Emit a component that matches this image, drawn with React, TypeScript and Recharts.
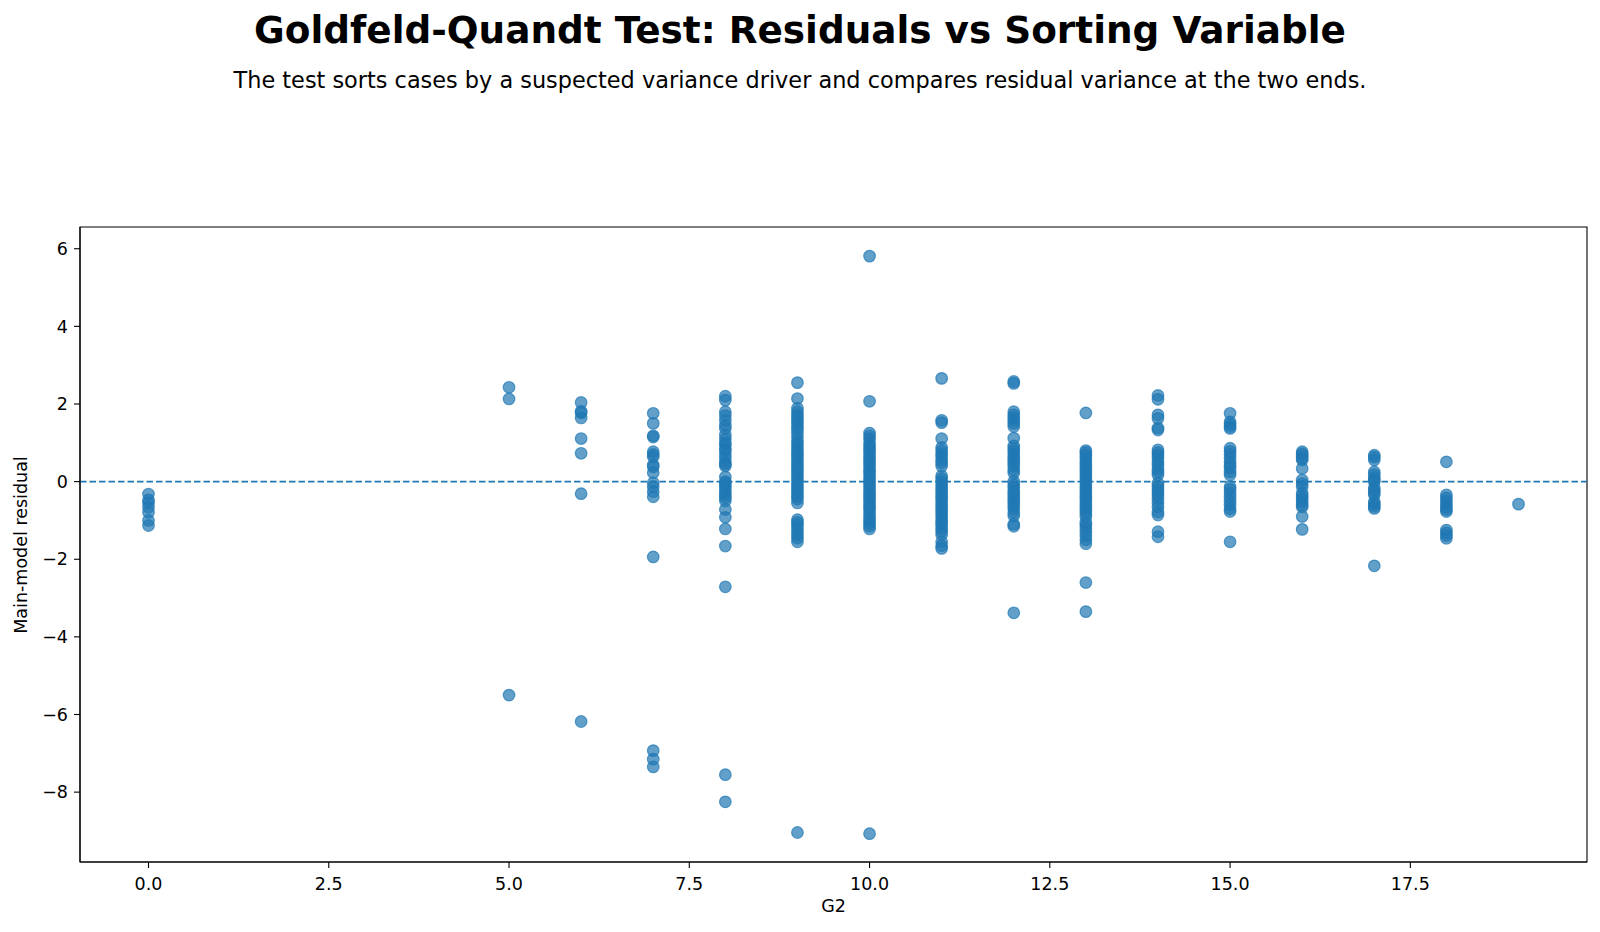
import React from 'react';
import { ScatterChart, Scatter, XAxis, YAxis, ReferenceLine, ReferenceArea } from 'recharts';

// residuals, one list per G2 value
const res0 = [-0.32, -0.47, -0.55, -0.66, -0.79, -1.0, -1.13];
const res5 = [2.43, 2.13, -5.5];
const res6 = [2.04, 1.81, 1.77, 1.64, 1.11, 0.73, -0.31, -6.18];
const res7 = [1.76, 1.5, 1.18, 1.15, 0.77, 0.7, 0.64, 0.43, 0.38, 0.23, -0.03, -0.13, -0.26, -0.39, -1.94, -6.93, -7.15, -7.35];
const res8 = [2.2, 2.1, 1.8, 1.7, 1.58, 1.45, 1.37, 1.2, 1.1, 1.0, 0.95, 0.85, 0.8, 0.7, 0.6, 0.5, 0.45, 0.4, 0.12, 0.0, -0.05, -0.12, -0.2, -0.28, -0.35, -0.42, -0.5, -0.72, -0.92, -1.22, -1.66, -2.71, -7.55, -8.25];
const res9 = [2.55, 2.14, 1.89, 1.8, 1.72, 1.65, 1.58, 1.5, 1.42, 1.35, 1.25, 1.15, 1.05, 0.98, 0.9, 0.82, 0.75, 0.68, 0.6, 0.52, 0.45, 0.38, 0.3, 0.22, 0.15, 0.08, 0.0, -0.08, -0.15, -0.22, -0.3, -0.38, -0.45, -0.55, -0.98, -1.05, -1.12, -1.2, -1.3, -1.38, -1.46, -1.55, -9.04];
const res10 = [5.81, 2.07, 1.25, 1.18, 1.1, 1.0, 0.92, 0.85, 0.78, 0.7, 0.62, 0.55, 0.48, 0.4, 0.32, 0.25, 0.18, 0.1, 0.03, -0.05, -0.12, -0.2, -0.28, -0.35, -0.42, -0.5, -0.58, -0.65, -0.72, -0.8, -0.88, -0.95, -1.02, -1.08, -1.15, -1.22, -9.07];
const res11 = [2.66, 1.58, 1.52, 1.11, 0.88, 0.8, 0.72, 0.65, 0.55, 0.48, 0.4, 0.15, 0.08, 0.0, -0.08, -0.15, -0.22, -0.3, -0.38, -0.45, -0.52, -0.6, -0.68, -0.75, -0.82, -0.9, -0.98, -1.05, -1.12, -1.2, -1.28, -1.36, -1.55, -1.65, -1.72];
const res12 = [2.58, 2.53, 1.8, 1.72, 1.65, 1.58, 1.5, 1.42, 1.12, 0.92, 0.85, 0.78, 0.7, 0.62, 0.55, 0.48, 0.4, 0.3, 0.22, 0.0, -0.08, -0.15, -0.25, -0.32, -0.4, -0.48, -0.55, -0.62, -0.7, -0.8, -0.88, -1.1, -1.15, -3.38];
const res13 = [1.77, 0.8, 0.75, 0.68, 0.6, 0.52, 0.45, 0.38, 0.3, 0.22, 0.15, 0.08, 0.0, -0.08, -0.15, -0.22, -0.3, -0.38, -0.45, -0.52, -0.6, -0.68, -0.75, -0.82, -0.9, -1.05, -1.12, -1.2, -1.3, -1.4, -1.5, -1.6, -2.6, -3.35];
const res14 = [2.22, 2.12, 1.72, 1.63, 1.38, 1.33, 0.82, 0.75, 0.68, 0.6, 0.5, 0.42, 0.32, 0.25, 0.17, -0.04, -0.12, -0.2, -0.28, -0.35, -0.45, -0.55, -0.65, -0.78, -0.86, -1.29, -1.42];
const res15 = [1.76, 1.54, 1.48, 1.42, 1.37, 0.86, 0.78, 0.7, 0.6, 0.5, 0.42, 0.35, 0.25, 0.17, -0.13, -0.2, -0.3, -0.4, -0.5, -0.6, -0.7, -0.77, -1.55];
const res16 = [0.77, 0.72, 0.66, 0.6, 0.56, 0.34, 0.04, -0.05, -0.13, -0.3, -0.38, -0.45, -0.52, -0.6, -0.65, -0.9, -1.23];
const res17 = [0.68, 0.63, 0.56, 0.25, 0.18, 0.1, 0.04, 0.0, -0.16, -0.22, -0.28, -0.34, -0.52, -0.58, -0.64, -0.69, -2.17];
const res18 = [0.51, -0.34, -0.42, -0.5, -0.58, -0.65, -0.72, -0.77, -1.25, -1.32, -1.39, -1.46];
const res19 = [-0.58];

const g2Values = [0, 5, 6, 7, 8, 9, 10, 11, 12, 13, 14, 15, 16, 17, 18, 19];
const residualLists = [res0, res5, res6, res7, res8, res9, res10, res11, res12, res13, res14, res15, res16, res17, res18, res19];

const xTicks = [0, 2.5, 5, 7.5, 10, 12.5, 15, 17.5];
const yTicks = [-8, -6, -4, -2, 0, 2, 4, 6];

const points = g2Values.flatMap((g, i) => residualLists[i].map((r) => ({ x: g, y: r })));

const FONT = 'DejaVu Sans, sans-serif';
const BLUE = '#1f77b4';

const Dot = (props: any) => {
  const { cx, cy } = props;
  if (cx == null || cy == null) return null;
  return (
    <circle
      cx={cx}
      cy={cy}
      r={5.8}
      fill={BLUE}
      fillOpacity={0.7}
      stroke={BLUE}
      strokeOpacity={0.7}
      strokeWidth={1.2}
    />
  );
};

const App: React.FC = () => {
  const tickStyle = { fill: '#000', fontSize: 17.5, fontFamily: FONT };
  return (
    <div style={{ position: 'absolute', left: 0, top: 0, width: 1600, height: 932, background: '#fff', fontFamily: FONT }}>
      {/* Title */}
      <div style={{ position: 'absolute', top: 11.5, left: 0, width: 1600, textAlign: 'center', fontSize: 37.4, fontWeight: 'bold', lineHeight: 1 }}>
        Goldfeld-Quandt Test: Residuals vs Sorting Variable
      </div>
      <div style={{ position: 'absolute', top: 69, left: 0, width: 1600, textAlign: 'center', fontSize: 22.4, lineHeight: 1 }}>
        The test sorts cases by a suspected variance driver and compares residual variance at the two ends.
      </div>

      <ScatterChart width={1600} height={932} margin={{ top: 227, right: 13, bottom: 0, left: 0 }}>
        <XAxis
          type="number"
          dataKey="x"
          domain={[-0.95, 19.95]}
          allowDataOverflow
          ticks={xTicks}
          tickFormatter={(v: number) => v.toFixed(1)}
          height={70}
          tick={tickStyle}
          tickSize={6}
          tickMargin={10}
          axisLine={{ stroke: '#000', strokeWidth: 1.1 }}
          tickLine={{ stroke: '#000', strokeWidth: 1.1 }}
        />
        <YAxis
          type="number"
          dataKey="y"
          domain={[-9.8, 6.56]}
          allowDataOverflow
          ticks={yTicks}
          tickFormatter={(v: number) => String(v).replace('-', '\u2212')}
          width={80}
          tick={tickStyle}
          tickSize={6}
          tickMargin={6}
          axisLine={{ stroke: '#000', strokeWidth: 1.1 }}
          tickLine={{ stroke: '#000', strokeWidth: 1.1 }}
        />
        <ReferenceArea
          x1={-0.95}
          x2={19.95}
          y1={-9.8}
          y2={6.56}
          fill="none"
          fillOpacity={0}
          stroke="#000"
          strokeWidth={1.1}
          ifOverflow="visible"
        />
        <ReferenceLine y={0} stroke={BLUE} strokeOpacity={1} strokeWidth={1.8} strokeDasharray="6.5 3" />
        <Scatter data={points} shape={<Dot />} isAnimationActive={false} />
      </ScatterChart>

      {/* Axis labels */}
      <div style={{ position: 'absolute', top: 898, left: 80, width: 1507, textAlign: 'center', fontSize: 17.5, lineHeight: 1 }}>
        G2
      </div>
      <div
        style={{
          position: 'absolute',
          left: 21.5,
          top: 544.5,
          transform: 'translate(-50%, -50%) rotate(-90deg)',
          whiteSpace: 'nowrap',
          fontSize: 17.5,
          lineHeight: 1,
        }}
      >
        Main-model residual
      </div>
    </div>
  );
};

export default App;
